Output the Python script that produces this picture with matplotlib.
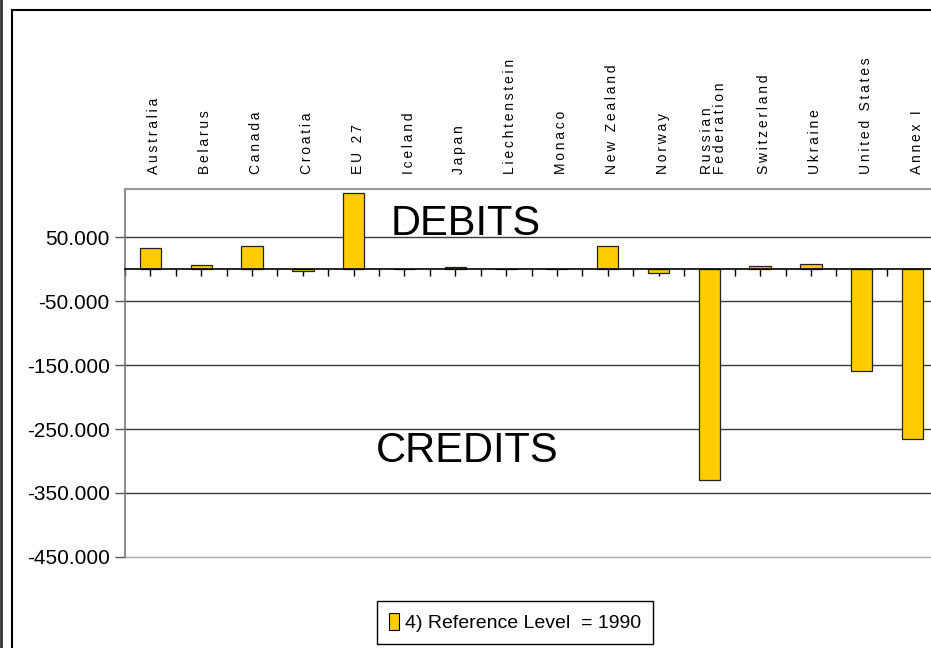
import matplotlib
matplotlib.use('Agg')
import matplotlib.pyplot as plt
import matplotlib.transforms as mtransforms
from matplotlib.lines import Line2D
import numpy as np

# 数据
countries = ['Australia', 'Belarus', 'Canada', 'Croatia', 'EU 27', 'Iceland', 'Japan',
             'Liechtenstein', 'Monaco', 'New Zealand', 'Norway', 'Russian\nFederation',
             'Switzerland', 'Ukraine', 'United States', 'Annex I']
values = [33000, 7000, 36000, -3000, 118000, 0, 2500, 0, 0, 36000, -5500,
          -330000, 5000, 7500, -159000, -265000]
series_name = '4) Reference Level  = 1990'
yticks = [50000, -50000, -150000, -250000, -350000, -450000]

plt.rcParams['font.family'] = ['Liberation Sans', 'DejaVu Sans']

def spaced(s):
    # 字母间加细空格，模仿原图的字距
    return '\n'.join('\u2009'.join(line) for line in s.split('\n'))

def fmt(v):
    # 千位分隔符用点
    return ('-' if v < 0 else '') + '{:,}'.format(abs(int(v))).replace(',', '.')

fig = plt.figure(figsize=(9.31, 6.48), dpi=100)
ax = fig.add_axes([125 / 931, 91 / 648, 813 / 931, 368 / 648])

x = np.arange(len(countries))
ax.bar(x, values, width=0.42, color='#FFCC00', edgecolor='#222222', linewidth=0.9, zorder=3)

ax.set_xlim(-0.5, len(countries) - 0.5)
ax.set_ylim(-450000, 125000)

# 网格线
for yv in yticks:
    c = '#aaaaaa' if yv == -450000 else '#3a3a3a'
    ax.axhline(yv, color=c, lw=1.0, zorder=1, clip_on=False)

# y轴
ax.set_yticks(yticks)
ax.set_yticklabels([fmt(v) for v in yticks], fontsize=15)
ax.tick_params(axis='y', direction='out', length=7, width=1, color='#555555', pad=4)

# x轴在0处
ax.spines['bottom'].set_position(('data', 0))
ax.spines['bottom'].set_color('black')
ax.spines['bottom'].set_linewidth(1.2)
ax.spines['bottom'].set_zorder(4)
ax.spines['left'].set_color('#777777')
ax.spines['left'].set_linewidth(1.2)
ax.spines['top'].set_color('#999999')
ax.spines['top'].set_linewidth(1.5)
ax.spines['right'].set_visible(False)
ax.set_xticks(np.arange(-0.5, len(countries), 0.5))
ax.set_xticklabels([])
ax.tick_params(axis='x', direction='out', length=5, width=1, color='black')

# 类别标签（在图上方）
trans = mtransforms.blended_transform_factory(ax.transData, ax.transAxes)
for i, name in enumerate(countries):
    ax.text(i + 0.08, 1.04, spaced(name), transform=trans, rotation=90,
            ha='center', va='bottom', multialignment='left', linespacing=0.95,
            fontsize=10)

ax.text(6.21, 53000, 'DEBITS', ha='center', va='baseline', fontsize=30)
ax.text(6.24, -301000, 'CREDITS', ha='center', va='baseline', fontsize=30)

leg = fig.legend([plt.Rectangle((0, 0), 1, 1, facecolor='#FFCC00', edgecolor='black', lw=0.8)],
                 [series_name], loc='center', bbox_to_anchor=(515 / 931, 25.5 / 648),
                 fancybox=False, framealpha=1, edgecolor='black',
                 handlelength=0.5, handleheight=1.0, handletextpad=0.3,
                 borderpad=0.6, prop={'size': 14})
leg.get_frame().set_linewidth(1.0)

# 外框
fig.add_artist(Line2D([1 / 931, 1 / 931], [0, 1], color='#333333', lw=2))
fig.add_artist(Line2D([11.5 / 931, 11.5 / 931], [0, 1 - 9.5 / 648], color='black', lw=1.5))
fig.add_artist(Line2D([11.5 / 931, 1], [1 - 9.5 / 648, 1 - 9.5 / 648], color='black', lw=1.5))

fig.savefig('out.png', dpi=100)
